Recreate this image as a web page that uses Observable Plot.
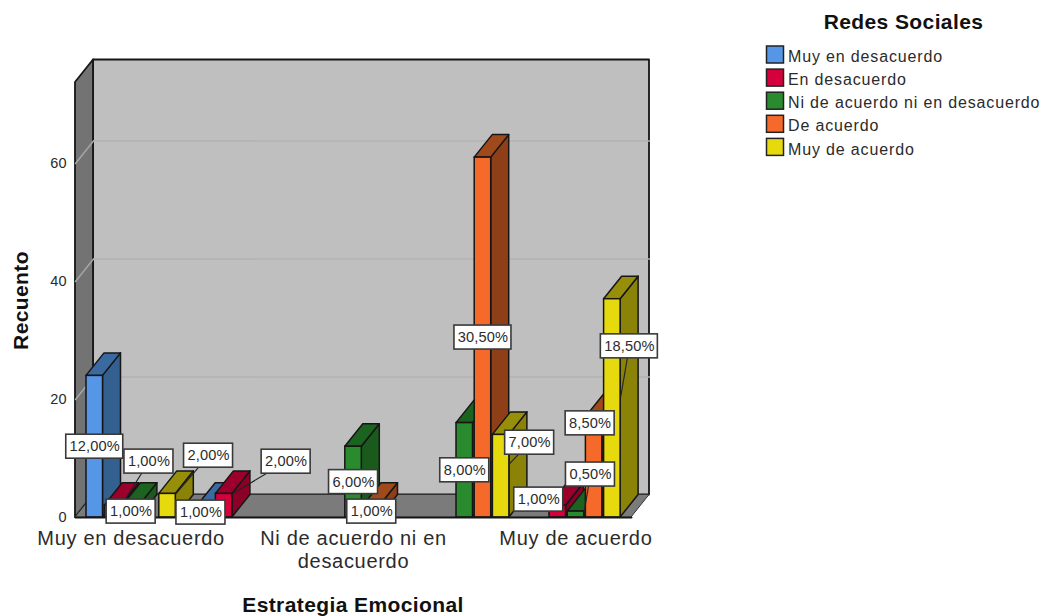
<!DOCTYPE html>
<html lang="es">
<head>
<meta charset="utf-8">
<script src="https://cdn.jsdelivr.net/npm/d3@7"></script>
<script src="https://cdn.jsdelivr.net/npm/@observablehq/plot@0.6"></script>
<style>
  html, body { margin: 0; padding: 0; background: #fff; }
  svg { overflow: visible; }
  .lbl text { letter-spacing: .15px; }
  .cat text { letter-spacing: .7px; }
  .leg text { letter-spacing: .85px; }
  .ttl text { letter-spacing: .4px; }
</style>
</head>
<body>
<div id="chart"></div>
<script>
// Categories of "Estrategia Emocional" and the axis texts shown beneath them
const categories = ["Muy en desacuerdo", "En desacuerdo", "Ni de acuerdo ni en desacuerdo", "De acuerdo", "Muy de acuerdo"];
const tickLabels = ["Muy en desacuerdo", "", "Ni de acuerdo ni en\ndesacuerdo", "", "Muy de acuerdo"];

// Categories of "Redes Sociales" (the clustered series)
const seriesNames = ["Muy en desacuerdo", "En desacuerdo", "Ni de acuerdo ni en desacuerdo", "De acuerdo", "Muy de acuerdo"];

// Respondent counts per series, one entry per category
const muyEnDesacuerdo = [24, 2, 0, 0, 0];
const enDesacuerdo = [2, 4, 0, 0, 2];
const niDeAcuerdo = [2, 0, 12, 16, 1];
const deAcuerdo = [0, 0, 2, 61, 17];
const muyDeAcuerdo = [4, 0, 0, 14, 37];
const seriesCounts = [muyEnDesacuerdo, enDesacuerdo, niDeAcuerdo, deAcuerdo, muyDeAcuerdo];
const totalCount = 200;
const yTicks = [0, 20, 40, 60];

// Face colours of each series
const frontColors = ["#5596e6", "#d6003c", "#2a8a2e", "#f5692b", "#e6d90e"];
const sideColors = ["#34608f", "#8c0027", "#1a5a1d", "#8f3f18", "#8b8308"];
const topColors = ["#3a6aa0", "#9a002b", "#1d6320", "#a04a1c", "#978f0a"];

// Label displacement in pixels and the height along the bar edge its leader reaches
const labelNudges = {
  "0|0": [0, 0, 0], "0|1": [36, -50, 1], "0|2": [0, 0, 0], "0|4": [41, -50, 1],
  "1|0": [-5, 1, 0], "1|1": [62, -44, 1],
  "2|2": [0, 0, 0], "2|3": [0, 0, 0],
  "3|2": [0, 0, 0], "3|3": [0, 0, 0], "3|4": [28.5, -33.5, 0.65],
  "4|1": [-19, -12, 1], "4|2": [14.5, -40, 1], "4|3": [-4, -44, 1], "4|4": [17, -62, 0.55]
};

// Plot frame and the pixel size of one data unit on each axis
const frame = {left: 75, right: 631, top: 82, bottom: 517};
const yMax = 73.73;
const unitX = (frame.right - frame.left) / categories.length;
const unitY = (frame.bottom - frame.top) / yMax;
const px = v => v / unitX;
const py = v => v / unitY;
const pageX = v => (v - frame.left) / unitX;
const pageY = v => (frame.bottom - v) / unitY;

// Oblique projection used for the depth of walls and bars
const depthX = px(18);
const depthY = py(22.5);

// Cluster layout inside one category band
const slotWidth = px(18.2);
const barWidth = px(16.5);
const clusterStart = px(11);

const bars = categories.flatMap((category, g) =>
  seriesNames.map((name, s) => ({
    g, s, name, count: seriesCounts[s][g],
    x1: g + clusterStart + s * slotWidth,
    x2: g + clusterStart + s * slotWidth + barWidth
  })).filter(d => d.count > 0)
);

const edge = "#161616";

// Back wall, left wall and floor of the chart box
const walls = [
  Plot.areaY([{x: depthX}, {x: 5 + depthX}], {x: "x", y1: depthY, y2: yMax + depthY, fill: "#bfbfbf", stroke: edge, strokeWidth: 1.8}),
  Plot.areaY([{x: 0, y1: 0, y2: yMax}, {x: depthX, y1: depthY, y2: yMax + depthY}], {x: "x", y1: "y1", y2: "y2", fill: "#737373", stroke: edge, strokeWidth: 1.8}),
  Plot.areaX([{y: 0, x1: 0, x2: 5}, {y: depthY, x1: depthX, x2: 5 + depthX}], {y: "y", x1: "x1", x2: "x2", fill: "#7b7b7b", stroke: "#333", strokeWidth: 1})
];

// Gridlines fold from the left wall onto the back wall
const gridlines = yTicks.slice(1).flatMap(v => [
  Plot.line([[0, v], [depthX, v + depthY]], {stroke: "#a5a5a5", strokeWidth: 1.5}),
  Plot.line([[depthX, v + depthY], [5 + depthX, v + depthY]], {stroke: "#b3b3b3", strokeWidth: 1.5})
]);

// Bars go left to right so that each front hides the side of its neighbour
const barMarks = bars.flatMap(d => [
  Plot.areaY([{x: d.x2, y1: 0, y2: d.count}, {x: d.x2 + depthX, y1: depthY, y2: d.count + depthY}],
    {x: "x", y1: "y1", y2: "y2", fill: sideColors[d.s], stroke: edge, strokeWidth: 1.5}),
  Plot.areaX([{y: d.count, x1: d.x1, x2: d.x2}, {y: d.count + depthY, x1: d.x1 + depthX, x2: d.x2 + depthX}],
    {y: "y", x1: "x1", x2: "x2", fill: topColors[d.s], stroke: edge, strokeWidth: 1.5}),
  Plot.rect([d], {x1: "x1", x2: "x2", y1: 0, y2: "count", fill: "name", stroke: edge, strokeWidth: 1.5})
]);

// Percentage labels: white boxes centred on the bar unless displaced, with leaders
const formatShare = c => (c / totalCount * 100).toFixed(2).replace(".", ",") + "%";
const labels = bars.map(d => {
  const [nx, ny, reach] = labelNudges[d.g + "|" + d.s];
  const text = formatShare(d.count);
  const cx = (d.x1 + d.x2) / 2 + px(nx);
  const cy = d.count / 2 - py(ny);
  const halfW = px(text.length > 5 ? 28.5 : 24.5);
  const halfH = py(12);
  return {text, cx, cy, halfW, halfH, nx, ny, toX: d.x2, toY: d.count * reach};
});
const labelMarks = [
  Plot.link(labels.filter(d => d.nx || d.ny), {x1: "cx", y1: "cy", x2: "toX", y2: "toY", stroke: "#222", strokeWidth: 1.1}),
  Plot.rect(labels, {
    x1: d => d.cx - d.halfW, x2: d => d.cx + d.halfW,
    y1: d => d.cy - d.halfH, y2: d => d.cy + d.halfH,
    fill: "#fff", stroke: "#3a3a3a", strokeWidth: 1.6
  }),
  Plot.text(labels, {x: "cx", y: "cy", text: "text", fontSize: 14.6, fill: "#2b2b2b", fontFamily: "Liberation Sans", className: "lbl"})
];

// Legend at the right of the chart box
const legendTop = 46, legendStep = 23.1, swatch = 17;
const legendRows = seriesNames.map((name, i) => ({name, top: legendTop + i * legendStep}));
const legendMarks = [
  Plot.text(["Redes Sociales"], {x: pageX(903), y: pageY(22), text: d => d, fontSize: 21, fontWeight: "bold", fill: "#111", fontFamily: "Liberation Sans", className: "ttl"}),
  Plot.rect(legendRows, {
    x1: pageX(766.5), x2: pageX(766.5 + swatch),
    y1: d => pageY(d.top), y2: d => pageY(d.top + swatch),
    fill: "name", stroke: "#222", strokeWidth: 1.5
  }),
  Plot.text(legendRows, {x: pageX(787.5), y: d => pageY(d.top + 10.5), text: "name", textAnchor: "start", fontSize: 16, fill: "#2b2b2b", fontFamily: "Liberation Sans", className: "leg"})
];

const chart = Plot.plot({
  width: 1041,
  height: 616,
  marginLeft: frame.left,
  marginRight: 1041 - frame.right,
  marginTop: frame.top,
  marginBottom: 616 - frame.bottom,
  style: {background: "transparent", fontFamily: "Liberation Sans"},
  x: {domain: [0, 5], axis: null},
  y: {domain: [0, yMax], axis: null},
  color: {domain: seriesNames, range: frontColors},
  marks: [
    ...walls,
    ...gridlines,
    ...barMarks,
    Plot.line([[0, 0], [5, 0]], {stroke: edge, strokeWidth: 2}),
    Plot.axisY({ticks: yTicks, tickSize: 0, tickPadding: 9, label: null, fontSize: 14.5, color: "#2b2b2b"}),
    ...labelMarks,
    Plot.text(tickLabels, {
      x: (d, i) => i + 0.5, y: 0, dy: 11, text: d => d, lineAnchor: "top", lineHeight: 1.15,
      fontSize: 20, fill: "#2b2b2b", fontFamily: "Liberation Sans", className: "cat"
    }),
    Plot.text(["Estrategia Emocional"], {x: pageX(352.5), y: pageY(605), text: d => d, fontSize: 21, fontWeight: "bold", fill: "#111", fontFamily: "Liberation Sans", className: "ttl"}),
    Plot.text(["Recuento"], {x: pageX(21), y: pageY(300), text: d => d, rotate: -90, fontSize: 21, fontWeight: "bold", fill: "#111", fontFamily: "Liberation Sans", className: "ttl"}),
    ...legendMarks
  ]
});
document.getElementById("chart").append(chart);
</script>
</body>
</html>
